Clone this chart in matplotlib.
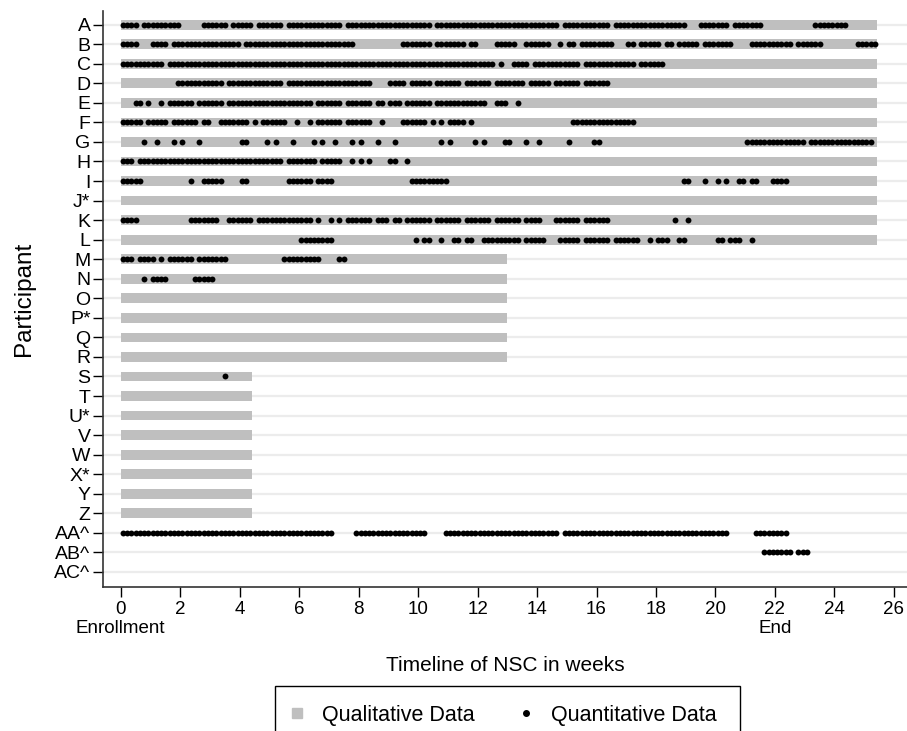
import numpy as np
import matplotlib
matplotlib.use('Agg')
import matplotlib.pyplot as plt
from matplotlib.lines import Line2D
from matplotlib.patches import Rectangle

plt.rcParams['font.family'] = ['Liberation Sans', 'DejaVu Sans']

# Participants, top to bottom
participants = ['A', 'B', 'C', 'D', 'E', 'F', 'G', 'H', 'I', 'J*', 'K', 'L', 'M',
                'N', 'O', 'P*', 'Q', 'R', 'S', 'T', 'U*', 'V', 'W', 'X*', 'Y', 'Z',
                'AA^', 'AB^', 'AC^']

# End of qualitative data period, in days from enrollment (0 = none)
qual_end_days = [178]*12 + [91]*6 + [31]*8 + [0]*3

# Quantitative data: runs of consecutive days (first_day, last_day)
quant_runs = [
    [(0, 3), (5, 13), (19, 24), (26, 30), (32, 37), (39, 51), (53, 72), (74, 102),
     (104, 114), (116, 132), (136, 142), (144, 150), (163, 170)],                       # A
    [(0, 3), (7, 10), (12, 27), (29, 54), (66, 72), (74, 80), (82, 83), (88, 92),
     (95, 100), (103, 103), (105, 106), (108, 115), (119, 120), (122, 126), (128, 129),
     (131, 135), (137, 143), (148, 157), (159, 164), (173, 177)],                        # B
    [(0, 9), (11, 87), (89, 89), (92, 95), (97, 107), (109, 120), (122, 127)],          # C
    [(13, 23), (25, 37), (39, 58), (63, 66), (68, 72), (74, 79), (81, 86), (88, 94),
     (96, 100), (102, 107), (109, 114)],                                                 # D
    [(3, 4), (6, 6), (9, 9), (11, 16), (18, 23), (25, 44), (46, 51), (53, 58), (60, 61),
     (63, 65), (67, 72), (74, 85), (88, 90), (93, 93)],                                  # E
    [(0, 4), (6, 10), (12, 17), (19, 20), (23, 29), (31, 31), (33, 38), (41, 41),
     (44, 44), (46, 51), (53, 58), (61, 61), (66, 71), (73, 73), (75, 75), (77, 80),
     (82, 82), (106, 120)],                                                              # F
    [(5, 5), (8, 8), (12, 12), (14, 14), (18, 18), (28, 29), (34, 34), (36, 36), (40, 40),
     (45, 45), (47, 47), (50, 50), (54, 54), (56, 56), (60, 60), (64, 64), (75, 75),
     (77, 77), (83, 83), (85, 85), (90, 91), (95, 95), (98, 98), (105, 105), (111, 112),
     (147, 160), (162, 176)],                                                            # G
    [(0, 2), (4, 37), (39, 45), (47, 51), (54, 54), (56, 56), (58, 58), (63, 64),
     (67, 67)],                                                                          # H
    [(0, 4), (16, 16), (19, 23), (28, 29), (39, 44), (46, 49), (68, 76), (132, 133),
     (137, 137), (140, 140), (142, 142), (145, 146), (148, 149), (153, 156)],            # I
    [],                                                                                  # J*
    [(0, 3), (16, 22), (25, 30), (32, 44), (46, 46), (49, 49), (51, 51), (53, 58),
     (60, 62), (64, 65), (67, 72), (74, 79), (81, 86), (88, 93), (95, 98), (102, 107),
     (109, 114), (130, 130), (133, 133)],                                                # K
    [(42, 49), (69, 69), (71, 72), (75, 75), (78, 79), (81, 82), (85, 93), (95, 99),
     (103, 107), (109, 114), (116, 121), (124, 124), (126, 128), (131, 132), (140, 141),
     (143, 145), (148, 148)],                                                            # L
    [(0, 2), (4, 7), (9, 9), (11, 16), (18, 24), (38, 46), (51, 52)],                   # M
    [(5, 5), (7, 10), (17, 21)],                                                         # N
    [], [], [], [],                                                                      # O P* Q R
    [(24, 24)],                                                                          # S
    [], [], [], [], [], [], [],                                                          # T..Z
    [(0, 49), (55, 71), (76, 102), (104, 142), (149, 156)],                              # AA^
    [(151, 157), (159, 161)],                                                            # AB^
    [],                                                                                  # AC^
]

week_ticks = list(range(0, 27, 2))
week_labels = [str(w) for w in week_ticks]
week_labels[0] = '0\nEnrollment'
week_labels[11] = '22\nEnd'

qual_color = '#bfbfbf'

fig = plt.figure(figsize=(9.07, 7.31), dpi=100)
ax = fig.add_axes([103/907, 1 - 587/731, 1 - 103/907, 576/731])

rows = np.arange(len(participants))

# Qualitative bars
widths = np.array(qual_end_days) / 7.0
ax.barh(rows, widths, left=0, height=0.5, color=qual_color, zorder=2)

# Quantitative dots, one per day
xs, ys = [], []
for i, runs in enumerate(quant_runs):
    for d0, d1 in runs:
        for d in range(d0, d1 + 1):
            xs.append((d + 0.5) / 7.0)
            ys.append(i)
ax.scatter(xs, ys, s=18, color='black', linewidths=0, zorder=3)

ax.set_xlim(-0.595, 26.44)
ax.set_ylim(len(participants) - 0.23, -0.7)

ax.set_yticks(rows)
ax.set_yticklabels(participants, fontsize=14)
ax.set_xticks(week_ticks)
ax.set_xticklabels(week_labels, fontsize=13.5, linespacing=1.15)
ax.tick_params(axis='y', direction='out', length=7, width=1, pad=2)
ax.tick_params(axis='x', direction='out', length=7, width=1, pad=3)

ax.yaxis.grid(True, color='#ececec', lw=1.6)
ax.set_axisbelow(True)
for s in ['top', 'right']:
    ax.spines[s].set_visible(False)
for s in ['left', 'bottom']:
    ax.spines[s].set_color('#333333')
    ax.spines[s].set_linewidth(1.2)

ax.set_xlabel('Timeline of NSC in weeks', fontsize=15, labelpad=14)
ax.set_ylabel('Participant', fontsize=17.5, labelpad=14)

# Legend (box runs off the bottom edge, as in the original)
handles = [
    Line2D([], [], marker='s', ls='', color=qual_color, markersize=7),
    Line2D([], [], marker='o', ls='', color='black', markersize=4),
]
fig.legend(handles, ['Qualitative Data', 'Quantitative Data'],
           loc='center left', bbox_to_anchor=(288/907, 1 - 715/731),
           borderaxespad=0, borderpad=0, ncol=2, fontsize=15.5, frameon=False,
           handlelength=0.8, handletextpad=0.8, columnspacing=1.95)
fig.patches.append(Rectangle((275/907, -0.05), 465/907, 45/731 + 0.05,
                             transform=fig.transFigure, fill=False,
                             ec='black', lw=1.0))

fig.savefig('out.png', dpi=100)
